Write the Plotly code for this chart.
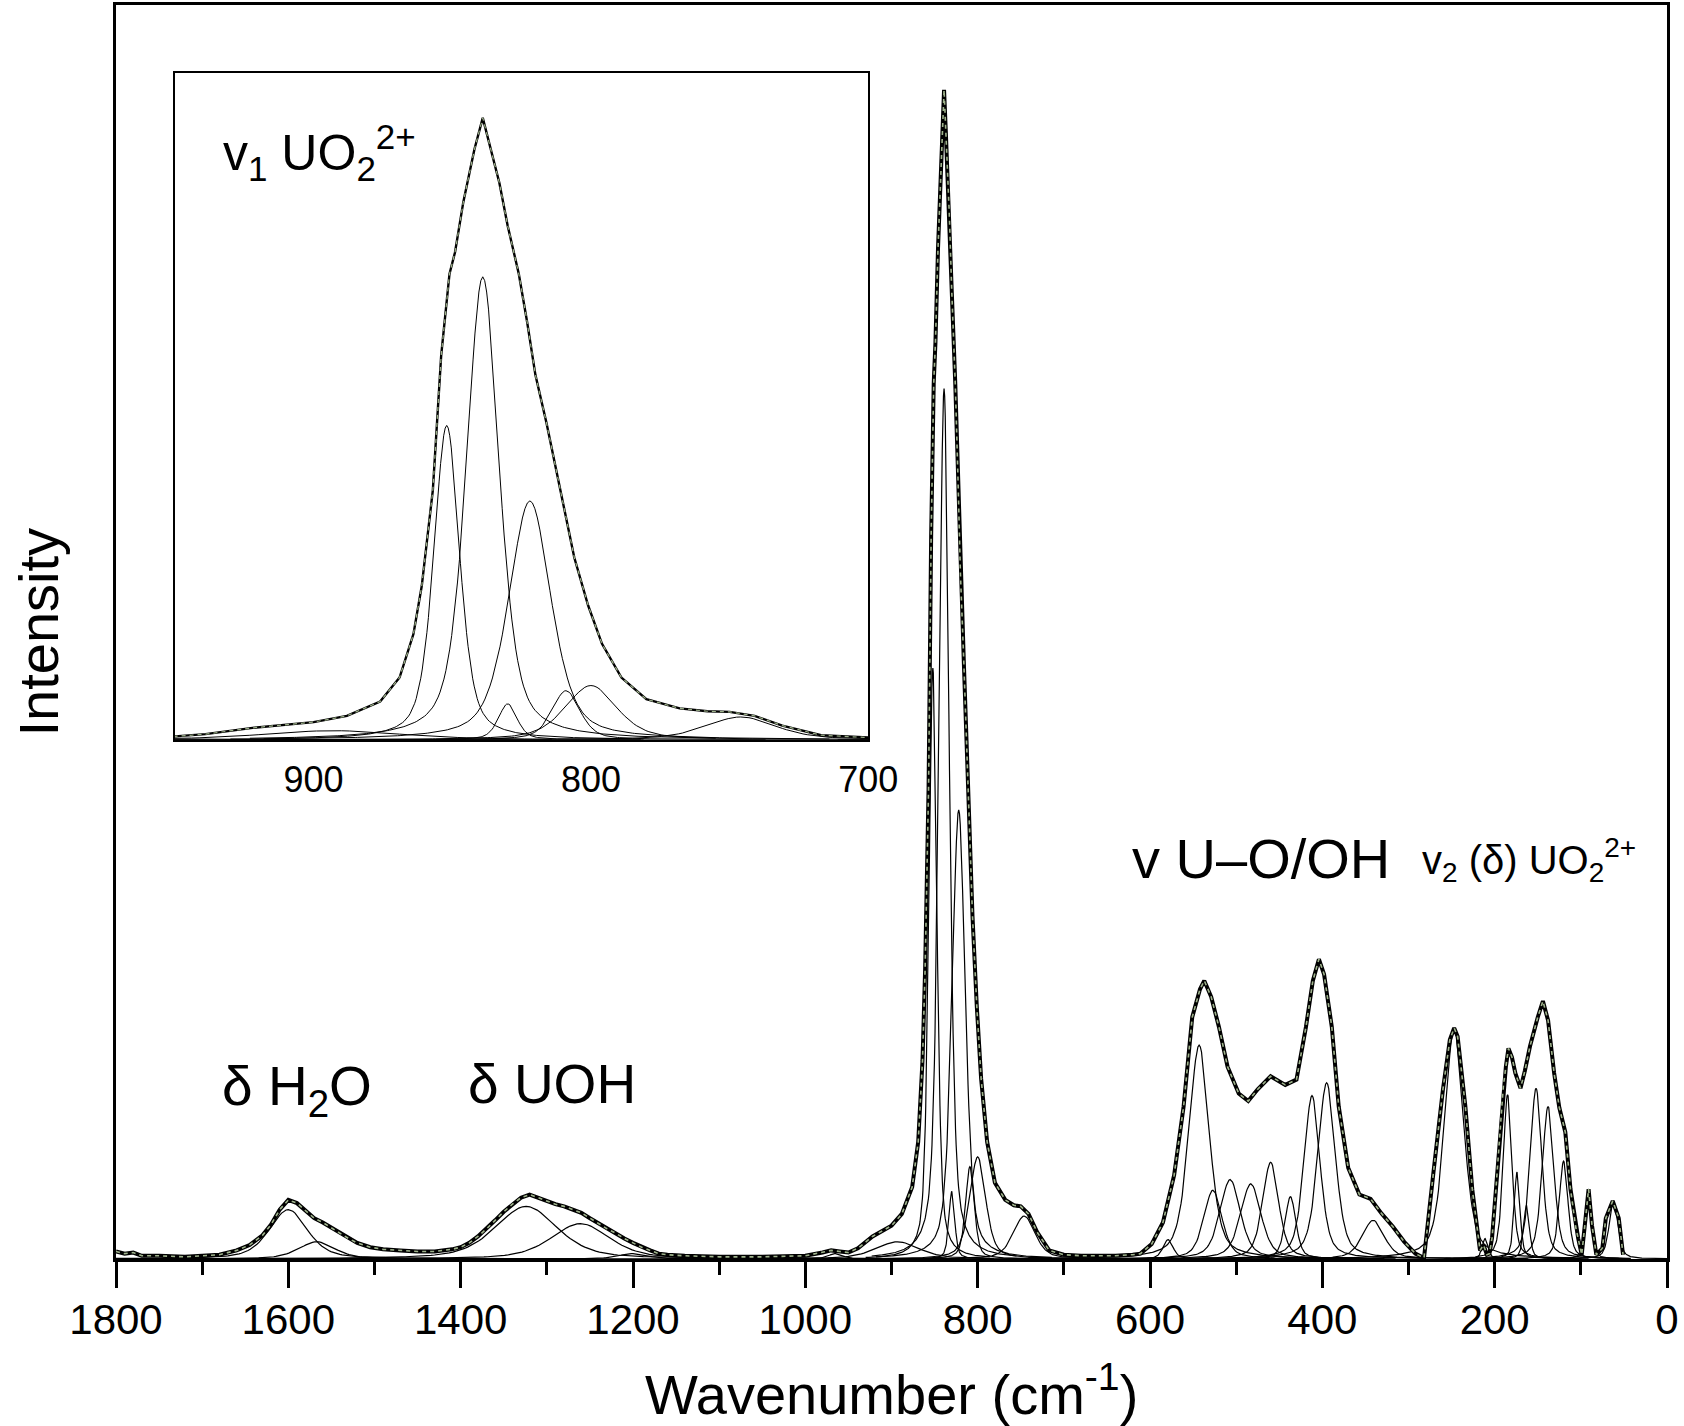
import numpy as np
import plotly.graph_objects as go

# ---------------- data ----------------
# measured spectrum (envelope): wavenumber (cm-1) and intensity (a.u.)
ENV_WN = [1800, 1790, 1780, 1770, 1750, 1720, 1700, 1680, 1660, 1645, 1630, 1620, 1610, 1600,
          1590, 1580, 1570, 1560, 1550, 1540, 1530, 1520, 1505, 1490, 1470, 1450, 1430, 1410,
          1400, 1390, 1380, 1370, 1360, 1350, 1340, 1330, 1320, 1310, 1300, 1290, 1280, 1270,
          1260, 1250, 1240, 1230, 1220, 1210, 1200, 1190, 1180, 1170, 1160, 1140, 1100, 1050,
          1000, 980, 970, 960, 950, 939, 922, 900, 888, 876, 869, 864, 861, 857, 854, 851, 849,
          846, 842, 839, 837, 833, 830, 826, 823, 820, 816, 811, 806, 801, 796, 789, 780, 768,
          758, 750, 741, 731, 717, 700, 680, 660, 640, 620, 611, 598, 585, 572, 561, 551, 542,
          537, 529, 520, 510, 497, 486, 475, 460, 443, 430, 419, 411, 404, 398, 389, 381, 370,
          357, 344, 331, 318, 305, 292, 284, 282, 271, 260, 252, 247, 243, 234, 226, 217, 213,
          209, 206, 203, 199, 194, 190, 187, 184, 180, 176, 170, 165, 159, 150, 144, 138, 131,
          125, 118, 112, 106, 103, 99, 95, 91, 87, 82, 75, 71, 63, 56, 51]
ENV_I = [7, 5, 6, 3, 3, 2, 3, 4, 8, 13, 22, 32, 46, 55,
         52, 45, 38, 34, 29, 24, 19, 15, 11, 9, 8, 7, 7, 9,
         11, 15, 21, 28, 36, 44, 51, 57, 60, 57, 54, 51, 49, 46,
         43, 38, 33, 28, 24, 19, 15, 11, 8, 5, 4, 3, 2, 2,
         3, 6, 8, 7, 6, 10, 21, 31, 42, 67, 109, 185, 269, 437, 672, 815, 853,
         941, 1033, 1088, 1050, 974, 899, 815, 731, 638, 554, 437, 319, 235, 168, 109, 71, 55,
         50, 49, 42, 25, 8, 4, 3, 3, 3, 4, 5, 14, 34, 78, 142, 225, 251,
         259, 244, 216, 179, 154, 147, 158, 170, 162, 167, 216, 259, 279, 265, 216, 142, 85,
         60, 56, 42, 30, 16, 5, 2, 1, 81, 158, 204, 215, 207, 142, 65, 8, 13,
         4, 5, 20, 60, 111, 160, 179, 196, 188, 173, 159, 175, 198, 225, 240, 222, 173,
         141, 118, 65, 30, 19, 4, 34, 65, 31, 4, 10, 38, 54, 38, 4]

# fitted component bands: centre (cm-1), height (a.u.), FWHM (cm-1)
BAND_CENTER = [1600, 1567, 1324, 1261, 1200, 965, 893,
               852, 839, 830, 822, 809, 800, 746,
               579, 543, 527, 507, 483, 460, 437, 412, 395, 341,
               247, 211, 185, 174, 163, 152, 138, 120, 91, 62]
BAND_HEIGHT = [46, 16, 49, 33, 5, 5, 16,
               550, 810, 63, 418, 86, 95, 40,
               18, 199, 64, 74, 70, 90, 58, 152, 164, 36,
               215, 19, 153, 81, 50, 159, 142, 91, 65, 54]
BAND_FWHM = [52, 50, 85, 80, 40, 20, 60,
             11, 14, 8, 18, 12, 22, 30,
             14, 28, 25, 28, 28, 22, 15, 22, 24, 30,
             26, 8, 12, 8, 8, 16, 16, 12, 8, 12]
LORENTZ_FRACTION = 0.5

MAIN_TICKS = [1800, 1600, 1400, 1200, 1000, 800, 600, 400, 200, 0]
INSET_TICKS = [900, 800, 700]

# ---------------- build component curves ----------------
def profile(x, c, h, w):
    u = (x - c) / w
    g = np.exp(-4 * np.log(2) * u ** 2)
    l = 1.0 / (1.0 + 4 * u ** 2)
    return h * (LORENTZ_FRACTION * l + (1 - LORENTZ_FRACTION) * g)

cx, cy = [], []
for c, h, w in zip(BAND_CENTER, BAND_HEIGHT, BAND_FWHM):
    xs = np.linspace(c - 6 * w, c + 6 * w, 241)
    ys = profile(xs, c, h, w)
    cx += list(xs) + [None]
    cy += list(ys) + [None]

FONT = "Liberation Sans, Arial, sans-serif"
fig = go.Figure()

# white background for inset
fig.add_shape(type="rect", xref="paper", yref="paper", x0=0.038, x1=0.485, y0=0.414, y1=0.946,
              fillcolor="white", line=dict(width=0), layer="below")

# main plot
fig.add_trace(go.Scatter(x=cx, y=cy, mode="lines", line=dict(color="black", width=1.2),
                         xaxis="x", yaxis="y", showlegend=False, hoverinfo="skip"))
fig.add_trace(go.Scatter(x=ENV_WN, y=ENV_I, mode="lines", line=dict(color="black", width=4),
                         xaxis="x", yaxis="y", showlegend=False))
fig.add_trace(go.Scatter(x=ENV_WN, y=ENV_I, mode="lines",
                         line=dict(color="#9fb38c", width=1.6, dash="4px,4px"),
                         xaxis="x", yaxis="y", showlegend=False))

# inset
fig.add_trace(go.Scatter(x=cx, y=cy, mode="lines", line=dict(color="black", width=1),
                         xaxis="x2", yaxis="y2", showlegend=False, hoverinfo="skip"))
fig.add_trace(go.Scatter(x=ENV_WN, y=ENV_I, mode="lines", line=dict(color="black", width=2.4),
                         xaxis="x2", yaxis="y2", showlegend=False))
fig.add_trace(go.Scatter(x=ENV_WN, y=ENV_I, mode="lines",
                         line=dict(color="#9fb38c", width=1.2, dash="4px,4px"),
                         xaxis="x2", yaxis="y2", showlegend=False))

fig.update_layout(
    width=1684, height=1426, autosize=False,
    margin=dict(l=116, r=17, t=5, b=167, autoexpand=False),
    paper_bgcolor="white", plot_bgcolor="white",
    font=dict(family=FONT, color="black"),
    xaxis=dict(range=[1800, 0], domain=[0, 1], tickvals=MAIN_TICKS,
               ticks="outside", ticklen=26, tickwidth=3, tickcolor="black",
               minor=dict(dtick=100, tick0=0, ticks="outside", ticklen=13, tickwidth=3,
                          tickcolor="black"),
               showline=True, linewidth=3, linecolor="black", mirror=True,
               showgrid=False, zeroline=False, tickfont=dict(size=42),
               ticklabelstandoff=-4, automargin=False),
    yaxis=dict(range=[0, 1167], domain=[0, 1], showticklabels=False, ticks="",
               showline=True, linewidth=3, linecolor="black", mirror=True,
               showgrid=False, zeroline=False, automargin=False),
    xaxis2=dict(range=[950, 700], domain=[0.038, 0.485], anchor="y2",
                tickvals=INSET_TICKS, ticks="", showline=True, linewidth=2,
                linecolor="black", mirror=True, showgrid=False, zeroline=False,
                tickfont=dict(size=36), ticklabelstandoff=7, automargin=False),
    yaxis2=dict(range=[0, 1167], domain=[0.414, 0.946], anchor="x2",
                showticklabels=False, ticks="", showline=True, linewidth=2,
                linecolor="black", mirror=True, showgrid=False, zeroline=False,
                automargin=False),
    annotations=[
        dict(text="Wavenumber (cm<sup>-1</sup>)", x=0.5, y=-0.105, xref="paper", yref="paper",
             showarrow=False, font=dict(size=56), xanchor="center", yanchor="middle"),
        dict(text="Intensity", x=-0.050, y=0.5, xref="paper", yref="paper", textangle=-90,
             showarrow=False, font=dict(size=56), xanchor="center", yanchor="middle"),
        dict(text="δ H<sub>2</sub>O", x=0.1167, y=0.135, xref="paper", yref="paper",
             showarrow=False, font=dict(size=55), xanchor="center", yanchor="middle"),
        dict(text="δ UOH", x=0.281, y=0.1396, xref="paper", yref="paper",
             showarrow=False, font=dict(size=55), xanchor="center", yanchor="middle"),
        dict(text="v U–O/OH", x=0.738, y=0.319, xref="paper", yref="paper",
             showarrow=False, font=dict(size=56), xanchor="center", yanchor="middle"),
        dict(text="v<sub>2</sub> (δ) UO<sub>2</sub><sup>2+</sup>", x=0.911, y=0.318,
             xref="paper", yref="paper", showarrow=False, font=dict(size=40),
             xanchor="center", yanchor="middle"),
        dict(text="v<sub>1</sub> UO<sub>2</sub><sup>2+</sup>", x=0.1315, y=0.882,
             xref="paper", yref="paper", showarrow=False, font=dict(size=50),
             xanchor="center", yanchor="middle"),
    ],
)

fig.write_html("out.html", config={"displayModeBar": False, "responsive": False},
               post_script="document.body.style.margin='0px';document.body.style.overflow='hidden';")
